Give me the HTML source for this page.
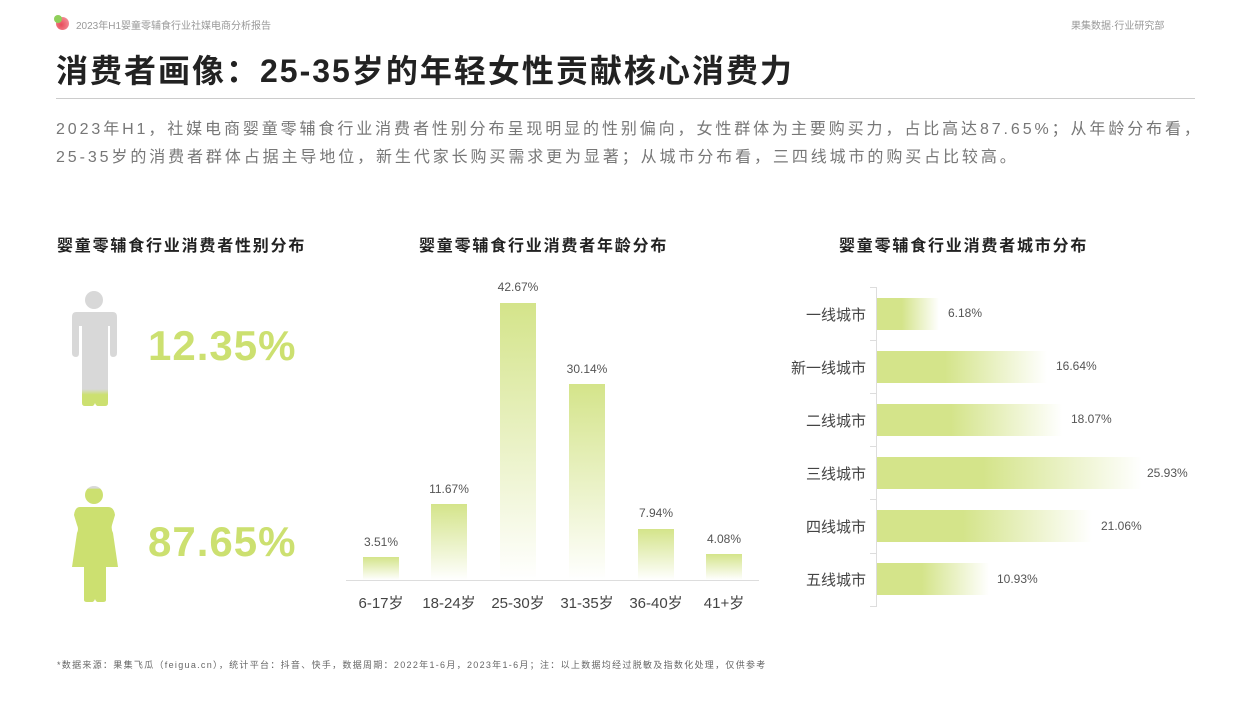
<!DOCTYPE html>
<html><head><meta charset="utf-8"><style>
*{margin:0;padding:0;box-sizing:border-box}
body{width:1250px;height:703px;background:#fff;position:relative;overflow:hidden;font-family:"Liberation Sans","Noto Sans CJK SC",sans-serif;color:#333}
.a{position:absolute;white-space:nowrap}
.vb{position:absolute;width:36px;background:linear-gradient(#d4e48a,#fff)}
.vl{position:absolute;width:80px;text-align:center;font-size:12px;color:#555}
.hb{position:absolute;left:877px;height:32px;background:linear-gradient(90deg,#d4e48a 0%,#d4e48a 40%,#fff 100%)}
.hl{position:absolute;font-size:12px;color:#555}
.cl{position:absolute;right:384px;font-size:15px;color:#444;text-align:right}
.xl{position:absolute;width:70px;text-align:center;font-size:15px;color:#444;top:592px}
.h{font-size:16px;font-weight:bold;color:#222;letter-spacing:1.8px}
</style></head><body>
<div class="a" style="left:56px;top:17px;width:13px;height:13px;border-radius:50%;background:radial-gradient(circle at 40% 60%,#e74c5a,#f7a0a8)"></div>
<div class="a" style="left:54px;top:15px;width:8px;height:8px;border-radius:50%;background:#8fcf5a"></div>
<div class="a" style="left:76px;top:17px;font-size:10px;color:#999">2023年H1婴童零辅食行业社媒电商分析报告</div>
<div class="a" style="left:1071px;top:17px;font-size:10px;color:#999">果集数据·行业研究部</div>
<div class="a" style="left:56px;top:46px;font-size:32px;font-weight:bold;color:#222;letter-spacing:2px">消费者画像：25-35岁的年轻女性贡献核心消费力</div>
<div class="a" style="left:56px;top:98px;width:1139px;height:1px;background:#ccc"></div>
<div class="a" style="left:56px;top:116px;font-size:16px;color:#777;line-height:28px;letter-spacing:2.9px">2023年H1，社媒电商婴童零辅食行业消费者性别分布呈现明显的性别偏向，女性群体为主要购买力，占比高达87.65%；从年龄分布看，<br>25-35岁的消费者群体占据主导地位，新生代家长购买需求更为显著；从城市分布看，三四线城市的购买占比较高。</div>
<div class="a h" style="left:57px;top:232px">婴童零辅食行业消费者性别分布</div>
<div class="a h" style="left:419px;top:232px">婴童零辅食行业消费者年龄分布</div>
<div class="a h" style="left:839px;top:232px">婴童零辅食行业消费者城市分布</div>
<!-- male -->
<svg class="a" style="left:70px;top:290px" width="50" height="118" viewBox="0 0 50 118">
<defs><linearGradient id="m" x1="0" y1="0" x2="0" y2="1"><stop offset="0.82" stop-color="#d8d8d8"/><stop offset="0.88" stop-color="#cce070"/></linearGradient></defs>
<circle cx="24" cy="10" r="9" fill="#d8d8d8"/>
<path d="M6 22 H43 Q47 22 47 27 V63 Q47 67 43 67 Q40 67 40 63 V36 H38 V113 Q38 116 35 116 H28 Q26 116 25 113 Q24 116 22 116 H15 Q12 116 12 113 V36 H9 V63 Q9 67 6 67 Q2 67 2 63 V27 Q2 22 6 22Z" fill="url(#m)"/>
</svg>
<div class="a" style="left:148px;top:322px;font-size:42px;font-weight:bold;color:#cce070;letter-spacing:1px">12.35%</div>
<!-- female -->
<svg class="a" style="left:70px;top:485px" width="50" height="120" viewBox="0 0 50 120">
<defs><linearGradient id="f" x1="0" y1="0" x2="0" y2="1"><stop offset="0.12" stop-color="#d8d8d8"/><stop offset="0.17" stop-color="#cce070"/></linearGradient></defs>
<circle cx="24" cy="10" r="9" fill="url(#f)"/>
<path d="M10 22 H38 Q44 22 45 30 L42 40 Q41 44 43 48 L48 82 H36 V115 Q36 117 33 117 H28 Q26 117 25 114 Q24 117 22 117 H17 Q14 117 14 115 V82 H2 L7 48 Q9 44 7 40 L4 30 Q5 22 10 22Z" fill="#cce070"/>
</svg>
<div class="a" style="left:148px;top:518px;font-size:42px;font-weight:bold;color:#cce070;letter-spacing:1px">87.65%</div>
<!-- vertical bars -->
<div class="a" style="left:346px;top:580px;width:413px;height:1px;background:#ddd"></div>
<div class="vb" style="left:363px;top:557px;height:23px"></div><div class="vl" style="left:341px;top:535px">3.51%</div>
<div class="vb" style="left:431px;top:504px;height:76px"></div><div class="vl" style="left:409px;top:482px">11.67%</div>
<div class="vb" style="left:500px;top:303px;height:277px"></div><div class="vl" style="left:478px;top:280px">42.67%</div>
<div class="vb" style="left:569px;top:384px;height:196px"></div><div class="vl" style="left:547px;top:362px">30.14%</div>
<div class="vb" style="left:638px;top:529px;height:51px"></div><div class="vl" style="left:616px;top:506px">7.94%</div>
<div class="vb" style="left:706px;top:554px;height:26px"></div><div class="vl" style="left:684px;top:532px">4.08%</div>
<div class="xl" style="left:346px">6-17岁</div>
<div class="xl" style="left:414px">18-24岁</div>
<div class="xl" style="left:483px">25-30岁</div>
<div class="xl" style="left:552px">31-35岁</div>
<div class="xl" style="left:621px">36-40岁</div>
<div class="xl" style="left:689px">41+岁</div>
<!-- horizontal bars -->
<div class="a" style="left:876px;top:287px;width:1px;height:320px;background:#ddd"></div>
<div class="a" style="left:870px;top:287px;width:6px;height:1px;background:#ddd"></div>
<div class="a" style="left:870px;top:340px;width:6px;height:1px;background:#ddd"></div>
<div class="a" style="left:870px;top:393px;width:6px;height:1px;background:#ddd"></div>
<div class="a" style="left:870px;top:446px;width:6px;height:1px;background:#ddd"></div>
<div class="a" style="left:870px;top:499px;width:6px;height:1px;background:#ddd"></div>
<div class="a" style="left:870px;top:553px;width:6px;height:1px;background:#ddd"></div>
<div class="a" style="left:870px;top:606px;width:6px;height:1px;background:#ddd"></div>
<div class="hb" style="top:298px;width:62px"></div><div class="hl" style="left:948px;top:306px">6.18%</div>
<div class="hb" style="top:351px;width:170px"></div><div class="hl" style="left:1056px;top:359px">16.64%</div>
<div class="hb" style="top:404px;width:185px"></div><div class="hl" style="left:1071px;top:412px">18.07%</div>
<div class="hb" style="top:457px;width:265px"></div><div class="hl" style="left:1147px;top:466px">25.93%</div>
<div class="hb" style="top:510px;width:215px"></div><div class="hl" style="left:1101px;top:519px">21.06%</div>
<div class="hb" style="top:563px;width:112px"></div><div class="hl" style="left:997px;top:572px">10.93%</div>
<div class="cl" style="top:304px">一线城市</div>
<div class="cl" style="top:357px">新一线城市</div>
<div class="cl" style="top:410px">二线城市</div>
<div class="cl" style="top:463px">三线城市</div>
<div class="cl" style="top:516px">四线城市</div>
<div class="cl" style="top:569px">五线城市</div>
<div class="a" style="left:57px;top:658px;font-size:9px;color:#666;letter-spacing:1.3px">*数据来源：果集飞瓜（feigua.cn），统计平台：抖音、快手，数据周期：2022年1-6月，2023年1-6月；注：以上数据均经过脱敏及指数化处理，仅供参考</div>
</body></html>
